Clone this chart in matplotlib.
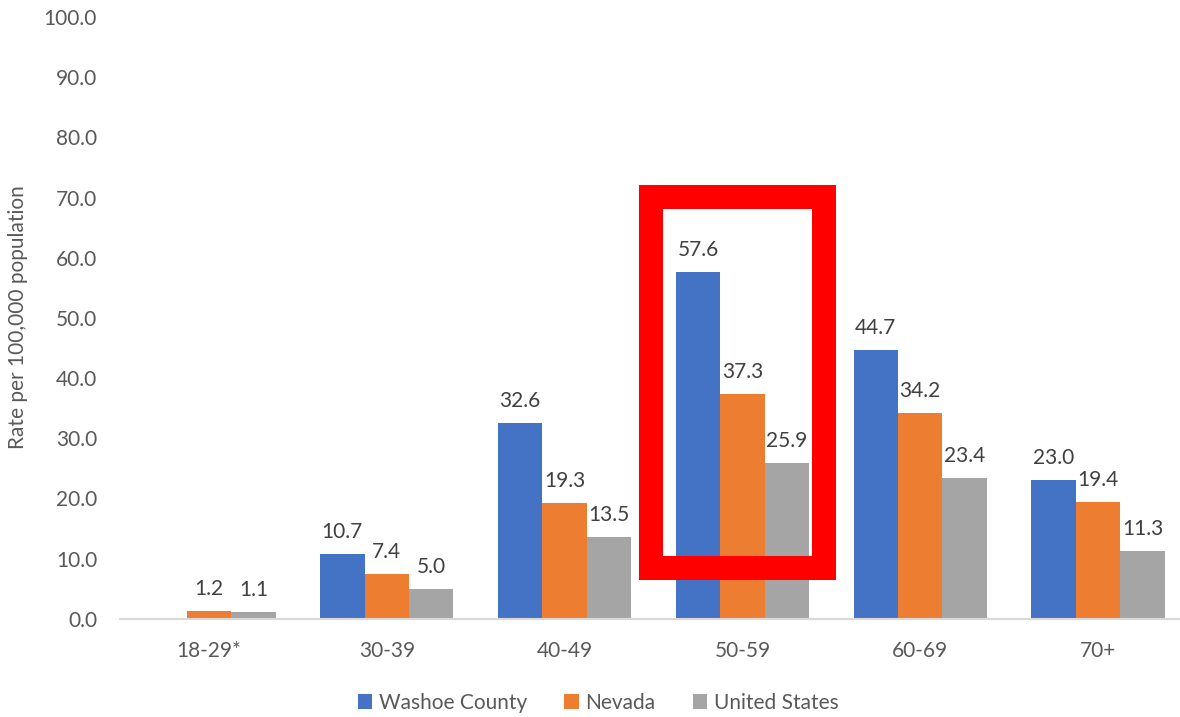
import matplotlib
matplotlib.use('Agg')
import numpy as np
from matplotlib import pyplot as plt
from matplotlib.patches import Rectangle

# Rates by age group
age_groups = ['18-29*', '30-39', '40-49', '50-59', '60-69', '70+']
washoe = [0.0, 10.7, 32.6, 57.6, 44.7, 23.0]
nevada = [1.2, 7.4, 19.3, 37.3, 34.2, 19.4]
united_states = [1.1, 5.0, 13.5, 25.9, 23.4, 11.3]
series_names = ['Washoe County', 'Nevada', 'United States']
# washoe has no reported value for 18-29
washoe_shown = [False, True, True, True, True, True]

colors = ['#4472C4', '#ED7D31', '#A5A5A5']
text_gray = '#595959'
label_gray = '#404040'

plt.rcParams['font.family'] = ['Lato', 'DejaVu Sans']

fig = plt.figure(figsize=(11.8, 7.17), dpi=100)
ax = fig.add_axes([120 / 1180, 98.3 / 717, 1067 / 1180, 601.7 / 717])

x = np.arange(len(age_groups))
width = 0.25
all_series = [washoe, nevada, united_states]
for i, (vals, name, col) in enumerate(zip(all_series, series_names, colors)):
    pos = x + (i - 1) * width
    bars = ax.bar(pos, vals, width, color=col, label=name, zorder=2)
    for j, (p, v) in enumerate(zip(pos, vals)):
        if i == 0 and not washoe_shown[j]:
            continue
        ax.text(p, v + 2.0, '{0:.1f}'.format(v), ha='center', va='bottom',
                fontsize=15, color=label_gray)

ax.set_xlim(-0.5, len(age_groups) - 0.5)
ax.set_ylim(0, 100)
ax.set_yticks(np.arange(0, 101, 10))
ax.set_yticklabels(['{0:.1f}'.format(v) for v in np.arange(0, 101, 10)])
ax.set_xticks(x)
ax.set_xticklabels(age_groups)
ax.tick_params(axis='y', length=0, pad=16.5, labelsize=15, labelcolor=text_gray)
ax.tick_params(axis='x', length=0, pad=16, labelsize=15, labelcolor=text_gray)
for s in ['top', 'right', 'left']:
    ax.spines[s].set_visible(False)
ax.spines['bottom'].set_color('#D9D9D9')
ax.spines['bottom'].set_linewidth(1.5)

fig.text(18 / 1180, 0.5 * (1 + 98.3 / 717 - 16 / 717), 'Rate per 100,000 population',
         rotation=90, ha='center', va='center', fontsize=15, color=text_gray)

# highlight the 50-59 group
box = Rectangle((2.486, 8.5), 0.971, 61.55, fill=False, edgecolor='#FF0000',
                linewidth=17.3, joinstyle='miter', zorder=3, clip_on=False)
ax.add_patch(box)

handles, labels = ax.get_legend_handles_labels()
fig.legend(handles, labels, loc='center', bbox_to_anchor=(598 / 1180, 1 - 703 / 717),
           ncol=3, frameon=False, fontsize=15, labelcolor=text_gray,
           handlelength=0.7, handleheight=0.7, handletextpad=0.3, columnspacing=1.8)

plt.savefig('out.png', dpi=100)
